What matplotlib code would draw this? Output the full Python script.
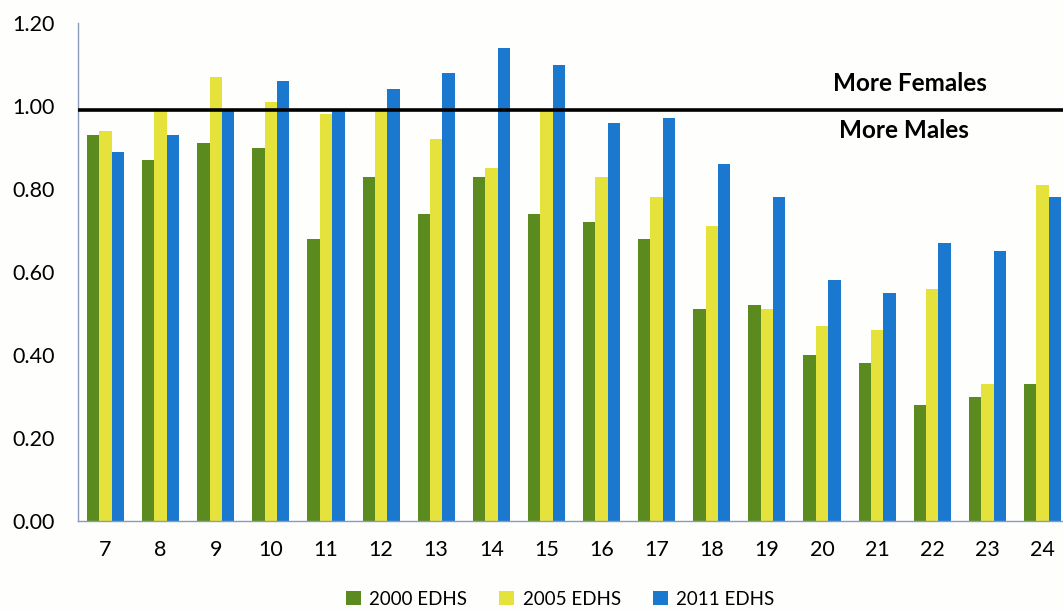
import matplotlib
matplotlib.use("Agg")
import matplotlib.pyplot as plt
import numpy as np

ages = ["7", "8", "9", "10", "11", "12", "13", "14", "15", "16", "17", "18",
        "19", "20", "21", "22", "23", "24"]
edhs_2000 = [0.93, 0.87, 0.91, 0.90, 0.68, 0.83, 0.74, 0.83, 0.74, 0.72, 0.68,
             0.51, 0.52, 0.40, 0.38, 0.28, 0.30, 0.33]
edhs_2005 = [0.94, 0.99, 1.07, 1.01, 0.98, 0.99, 0.92, 0.85, 0.99, 0.83, 0.78,
             0.71, 0.51, 0.47, 0.46, 0.56, 0.33, 0.81]
edhs_2011 = [0.89, 0.93, 0.99, 1.06, 0.99, 1.04, 1.08, 1.14, 1.10, 0.96, 0.97,
             0.86, 0.78, 0.58, 0.55, 0.67, 0.65, 0.78]
series_names = ["2000 EDHS", "2005 EDHS", "2011 EDHS"]
parity_level = 0.99

colors = ["#5b8a1f", "#e6e23c", "#1a79cf"]
font = ["Lato", "DejaVu Sans"]
plt.rcParams["font.family"] = font

fig = plt.figure(figsize=(10.63, 6.11), dpi=100)
fig.patch.set_facecolor("#fefefc")
ax = fig.add_axes([78 / 1063, 90 / 611, 992 / 1063, 498 / 611])
ax.set_facecolor("#fefefc")

x = np.arange(len(ages))
w = 0.224
for i, (vals, name, c) in enumerate(zip([edhs_2000, edhs_2005, edhs_2011],
                                        series_names, colors)):
    ax.bar(x + (i - 1) * w, vals, width=w, color=c, label=name, zorder=2)

ax.axhline(parity_level, color="black", lw=2.6, zorder=3)
ax.text(0.839, 1.055, "More Females", transform=ax.get_yaxis_transform(),
        ha="center", va="center", fontsize=17.5, fontweight="bold")
ax.text(0.833, 0.94, "More Males", transform=ax.get_yaxis_transform(),
        ha="center", va="center", fontsize=17.5, fontweight="bold")

ax.set_xlim(-0.5, len(ages) - 0.5)
ax.set_ylim(0, 1.2)
ax.set_yticks(np.arange(0, 1.21, 0.2))
ax.set_yticklabels([f"{v:.2f}" for v in np.arange(0, 1.21, 0.2)])
ax.set_xticks(x)
ax.set_xticklabels(ages)
ax.tick_params(axis="y", length=0, pad=17, labelsize=15.5)
ax.tick_params(axis="x", length=0, pad=14, labelsize=15.5)

for s in ["top", "right"]:
    ax.spines[s].set_visible(False)
for s in ["left", "bottom"]:
    ax.spines[s].set_color("#8a9ab8")
    ax.spines[s].set_linewidth(1.0)

fig.legend(loc="lower center", bbox_to_anchor=(0.527, -0.022), ncol=3,
           frameon=False, fontsize=13.5, handlelength=0.8, handleheight=0.8,
           handletextpad=0.45, columnspacing=1.7)

fig.savefig("out.png", dpi=100, facecolor=fig.get_facecolor())
